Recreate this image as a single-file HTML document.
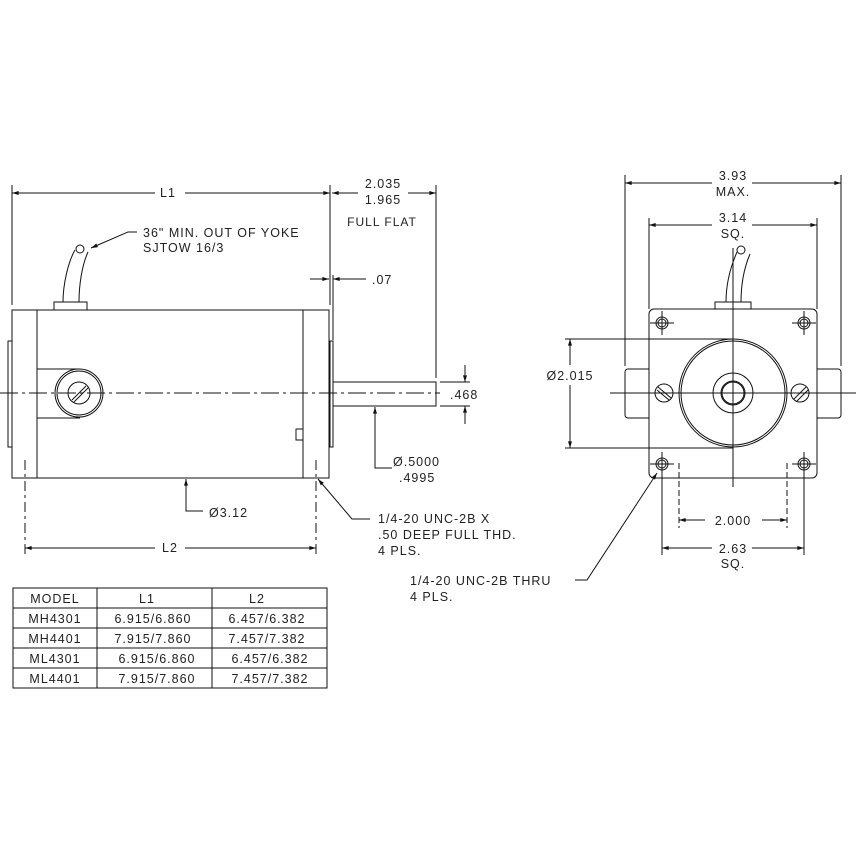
<!DOCTYPE html>
<html><head><meta charset="utf-8"><style>
html,body{margin:0;padding:0;background:#fff;}
svg{display:block;}
text{font-family:"Liberation Sans",sans-serif;font-size:12.5px;fill:#222;letter-spacing:1px;}
</style></head><body>
<svg width="860" height="860" viewBox="0 0 860 860" xmlns="http://www.w3.org/2000/svg">
<defs>
<marker id="a" viewBox="0 0 10 6" refX="10" refY="3" markerWidth="10" markerHeight="4" orient="auto-start-reverse" markerUnits="userSpaceOnUse"><path d="M0,0L10,3L0,6z" fill="#111"/></marker>
</defs>
<g stroke="#111" stroke-width="1" fill="none">
<!-- L1 -->
<line x1="12" y1="185" x2="12" y2="305"/>
<line x1="330" y1="185" x2="330" y2="305"/>
<line x1="436" y1="185" x2="436" y2="378"/>
<line x1="12" y1="193" x2="155" y2="193" marker-start="url(#a)"/>
<line x1="185" y1="193" x2="330" y2="193" marker-end="url(#a)"/>
<line x1="332" y1="193" x2="358" y2="193" marker-start="url(#a)"/>
<line x1="408" y1="193" x2="436" y2="193" marker-end="url(#a)"/>
<!-- .07 -->
<line x1="310" y1="279" x2="329" y2="279" marker-end="url(#a)"/>
<line x1="333" y1="279" x2="366" y2="279" marker-start="url(#a)"/>
<line x1="333" y1="275" x2="333" y2="340"/>
<!-- body -->
<rect x="12" y="310" width="25" height="168"/>
<rect x="37" y="310" width="266" height="168"/>
<rect x="303" y="310" width="26" height="168"/>
<rect x="8" y="341" width="4" height="106"/>
<rect x="330" y="341" width="3" height="106"/>
<rect x="54" y="302" width="33" height="8"/>
<path d="M63,302 C63,285 68,262 75,250 M79,302 C79,285 82,265 88,252"/>
<circle cx="80" cy="249" r="4"/>
<path d="M37,369 H80 M37,418 H80"/>
<circle cx="79" cy="393" r="24"/><circle cx="79" cy="393" r="22"/>
<circle cx="79" cy="393" r="11"/>
<line x1="72" y1="400" x2="86" y2="386"/><line x1="74" y1="402" x2="88" y2="388"/>
<rect x="296" y="429" width="7" height="11"/>
<rect x="333" y="382" width="103" height="24"/>
<line x1="0" y1="393" x2="440" y2="393" stroke-dasharray="18,4,3,4"/>
<!-- .468 -->
<line x1="440" y1="382" x2="470" y2="382"/><line x1="440" y1="406" x2="470" y2="406"/>
<line x1="465" y1="365" x2="465" y2="382" marker-end="url(#a)"/>
<line x1="465" y1="424" x2="465" y2="406" marker-end="url(#a)"/>
<!-- cable leader -->
<polyline points="137,232 128,232 91,248" marker-end="url(#a)"/>
<!-- shaft leader -->
<polyline points="392,468 375,468 375,407" marker-end="url(#a)"/>
<!-- 3.12 -->
<polyline points="203,511 186,511 186,479" marker-end="url(#a)"/>
<!-- 1/4 leader -->
<polyline points="370,519 352,519 318,479" marker-end="url(#a)"/>
<!-- L2 -->
<line x1="25" y1="460" x2="25" y2="555" stroke-dasharray="10,4,3,4"/>
<line x1="316" y1="460" x2="316" y2="555" stroke-dasharray="10,4,3,4"/>
<line x1="25" y1="548" x2="155" y2="548" marker-start="url(#a)"/>
<line x1="185" y1="548" x2="316" y2="548" marker-end="url(#a)"/>
<!-- table -->
<rect x="13" y="588" width="314" height="100"/>
<path d="M13,608H327M13,628H327M13,648H327M13,668H327M97,588V688M212,588V688"/>

<!-- RIGHT VIEW -->
<line x1="625" y1="175" x2="625" y2="366"/><line x1="841" y1="175" x2="841" y2="366"/>
<line x1="625" y1="183" x2="712" y2="183" marker-start="url(#a)"/>
<line x1="752" y1="183" x2="841" y2="183" marker-end="url(#a)"/>
<line x1="649" y1="218" x2="649" y2="309"/><line x1="817" y1="218" x2="817" y2="309"/>
<line x1="649" y1="225" x2="712" y2="225" marker-start="url(#a)"/>
<line x1="752" y1="225" x2="817" y2="225" marker-end="url(#a)"/>
<rect x="649" y="309" width="168" height="169" rx="5"/>
<path d="M649,369 H628 a3,3 0 0 0 -3,3 V415 a3,3 0 0 0 3,3 H649"/>
<path d="M817,369 H838 a3,3 0 0 1 3,3 V415 a3,3 0 0 1 -3,3 H817"/>
<rect x="715" y="302" width="36" height="7"/>
<path d="M726,302 C726,285 730,268 737,252 M741,302 C741,285 744,268 750,254"/>
<circle cx="741" cy="250" r="4"/>
<circle cx="733" cy="393" r="54"/><circle cx="733" cy="393" r="52"/>
<circle cx="733" cy="393" r="20"/><circle cx="733" cy="393" r="12"/><circle cx="733" cy="393" r="11"/>
<line x1="610" y1="393" x2="856" y2="393"/>
<line x1="733" y1="248" x2="733" y2="487"/>
<circle cx="664" cy="393" r="9"/><line x1="658" y1="387" x2="671" y2="398"/><line x1="657" y1="390" x2="669" y2="400"/>
<circle cx="800" cy="393" r="9"/><line x1="794" y1="399" x2="806" y2="387"/><line x1="797" y1="401" x2="808" y2="390"/>
<g>
<circle cx="662" cy="323" r="6"/><circle cx="662" cy="323" r="4"/><path d="M650,323H674M662,311V335"/>
<circle cx="804" cy="323" r="6"/><circle cx="804" cy="323" r="4"/><path d="M792,323H816M804,311V335"/>
<circle cx="662" cy="464" r="6"/><circle cx="662" cy="464" r="4"/><path d="M650,464H674M662,452V476"/>
<circle cx="804" cy="464" r="6"/><circle cx="804" cy="464" r="4"/><path d="M792,464H816M804,452V476"/>
</g>
<!-- 2.015 -->
<line x1="565" y1="339" x2="733" y2="339"/><line x1="565" y1="448" x2="733" y2="448"/>
<line x1="570" y1="365" x2="570" y2="339" marker-end="url(#a)"/>
<line x1="570" y1="385" x2="570" y2="448" marker-end="url(#a)"/>
<!-- 2.000 -->
<line x1="679" y1="463" x2="679" y2="528" stroke-dasharray="6,3"/>
<line x1="787" y1="463" x2="787" y2="528" stroke-dasharray="6,3"/>
<line x1="679" y1="520" x2="705" y2="520" marker-start="url(#a)"/>
<line x1="762" y1="520" x2="787" y2="520" marker-end="url(#a)"/>
<!-- 2.63 -->
<line x1="662" y1="476" x2="662" y2="555"/><line x1="804" y1="476" x2="804" y2="555"/>
<line x1="662" y1="548" x2="712" y2="548" marker-start="url(#a)"/>
<line x1="752" y1="548" x2="804" y2="548" marker-end="url(#a)"/>
<polyline points="575,580 587,580 657,473" marker-end="url(#a)"/>
</g>
<g>
<text x="168" y="197" text-anchor="middle">L1</text>
<text x="383" y="188" text-anchor="middle">2.035</text>
<text x="383" y="204" text-anchor="middle">1.965</text>
<text x="382" y="226" text-anchor="middle" style="font-size:12px">FULL FLAT</text>
<text x="372" y="284">.07</text>
<text x="143" y="237">36" MIN. OUT OF YOKE</text>
<text x="143" y="252">SJTOW 16/3</text>
<text x="450" y="399">.468</text>
<text x="393" y="466">Ø.5000</text>
<text x="399" y="482">.4995</text>
<text x="209" y="517">Ø3.12</text>
<text x="378" y="523">1/4-20 UNC-2B X</text>
<text x="378" y="539">.50 DEEP FULL THD.</text>
<text x="378" y="555">4 PLS.</text>
<text x="170" y="552" text-anchor="middle">L2</text>
<text x="55" y="603" text-anchor="middle">MODEL</text>
<text x="147" y="603" text-anchor="middle">L1</text>
<text x="257" y="603" text-anchor="middle">L2</text>
<text x="55" y="623" text-anchor="middle">MH4301</text>
<text x="153" y="623" text-anchor="middle">6.915/6.860</text>
<text x="267" y="623" text-anchor="middle">6.457/6.382</text>
<text x="55" y="643" text-anchor="middle">MH4401</text>
<text x="153" y="643" text-anchor="middle">7.915/7.860</text>
<text x="267" y="643" text-anchor="middle">7.457/7.382</text>
<text x="55" y="663" text-anchor="middle">ML4301</text>
<text x="157" y="663" text-anchor="middle">6.915/6.860</text>
<text x="270" y="663" text-anchor="middle">6.457/6.382</text>
<text x="55" y="683" text-anchor="middle">ML4401</text>
<text x="157" y="683" text-anchor="middle">7.915/7.860</text>
<text x="270" y="683" text-anchor="middle">7.457/7.382</text>
<text x="733" y="180" text-anchor="middle">3.93</text>
<text x="733" y="196" text-anchor="middle">MAX.</text>
<text x="733" y="222" text-anchor="middle">3.14</text>
<text x="733" y="238" text-anchor="middle">SQ.</text>
<text x="570" y="380" text-anchor="middle">Ø2.015</text>
<text x="733" y="525" text-anchor="middle">2.000</text>
<text x="733" y="553" text-anchor="middle">2.63</text>
<text x="733" y="568" text-anchor="middle">SQ.</text>
<text x="410" y="585">1/4-20 UNC-2B THRU</text>
<text x="410" y="601">4 PLS.</text>
</g>
</svg>
</body></html>
